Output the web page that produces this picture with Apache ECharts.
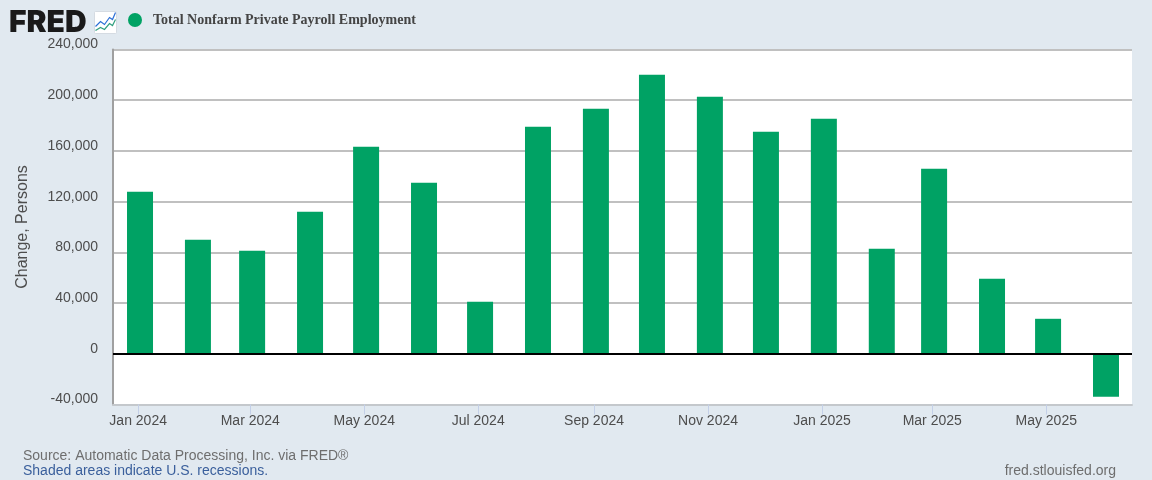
<!DOCTYPE html>
<html><head><meta charset="utf-8">
<style>html,body{margin:0;padding:0;background:#e1e9f0}#c{width:1152px;height:480px}</style>
<script src="https://cdn.jsdelivr.net/npm/echarts@6/dist/echarts.min.js"></script>
</head><body><div id="c"></div>
<script>
const months = ['2024-01-02','2024-02-02','2024-03-02','2024-04-02','2024-05-02','2024-06-02','2024-07-02','2024-08-02','2024-09-02','2024-10-02','2024-11-02','2024-12-02','2025-01-02','2025-02-02','2025-03-02','2025-04-02','2025-05-02','2025-06-02'];
const changes = [127800,89900,81300,112000,163300,134900,41000,179100,193300,220100,202800,175200,185400,82800,146000,59200,27600,-33900];
const tickDates = ['2024-01-01','2024-03-01','2024-05-01','2024-07-01','2024-09-01','2024-11-01','2025-01-01','2025-03-01','2025-05-01'];
const seriesName = 'Total Nonfarm Private Payroll Employment';
const monthNames = ['Jan','Feb','Mar','Apr','May','Jun','Jul','Aug','Sep','Oct','Nov','Dec'];
const green = '#00a264', sans = '"Liberation Sans",Arial,sans-serif';
const chart = echarts.init(document.getElementById('c'));
chart.setOption({
  animation:false, backgroundColor:'#e1e9f0',
  grid:{left:113,right:20,top:49.5,bottom:75.5,show:true,backgroundColor:'#fff',borderWidth:0,outerBoundsMode:'none'},
  legend:{left:123,top:8,icon:'circle',itemWidth:14,itemHeight:14,itemGap:8,
    textStyle:{fontFamily:'"Liberation Serif",serif',fontWeight:'bold',fontSize:14,color:'#444',padding:[0,0,0,6]},data:[seriesName]},
  xAxis:{type:'value',min:Date.parse('2023-12-18T13:00:00Z'),max:Date.parse('2025-06-15T22:00:00Z'),
    axisLine:{onZero:false,lineStyle:{color:'#c4c8cc',width:2}},
    axisTick:{show:true,length:10,lineStyle:{color:'#c4d0e8',width:1},customValues:tickDates.map(d=>Date.parse(d))},
    axisLabel:{fontFamily:sans,fontSize:14,color:'#4d4d4d',margin:10,hideOverlap:false,showMinLabel:true,showMaxLabel:true,
      customValues:tickDates.map(d=>Date.parse(d)),
      formatter:v=>{const d=new Date(v);return monthNames[d.getUTCMonth()]+' '+d.getUTCFullYear();}},
    splitLine:{show:false}},
  yAxis:{type:'value',min:-40000,max:240000,interval:40000,name:'Change, Persons',nameLocation:'middle',nameGap:82,
    nameTextStyle:{fontFamily:sans,fontSize:16,color:'#4d4d4d'},
    axisLine:{show:true,lineStyle:{color:'#a0a0a0',width:2}},axisTick:{show:false},
    axisLabel:{fontFamily:sans,fontSize:14,color:'#4d4d4d',margin:15,verticalAlign:'bottom',padding:[0,0,-2,0],
      formatter:v=>v.toLocaleString('en-US')},
    splitLine:{show:true,lineStyle:{color:'#c0c0c0',width:2}}},
  series:[{type:'bar',name:seriesName,barWidth:26,itemStyle:{color:green},
    data:months.map((m,i)=>[Date.parse(m),changes[i]]),
    markLine:{silent:true,symbol:'none',label:{show:false},lineStyle:{color:'#000',width:2,type:'solid'},data:[{yAxis:0}]}}],
  graphic:[
    {type:'text',left:9,top:8,style:{text:'FRED',fontFamily:'Inter,sans-serif',fontWeight:900,fontSize:30,fill:'#1a1a1a'}},
    {type:'group',left:93,top:10,children:[
      {type:'rect',shape:{x:0,y:0,width:22,height:22,r:1},style:{fill:'#fff',stroke:'#d5dbe2',lineWidth:1}},
      {type:'polyline',shape:{points:[[1,15],[6,10],[10,13],[15,6],[18,8],[21,1]]},style:{fill:'none',stroke:'#2c6fd6',lineWidth:1.2}},
      {type:'polyline',shape:{points:[[1,19],[6,16],[10,18],[15,12],[18,14],[21,8]]},style:{fill:'none',stroke:'#2f9f7f',lineWidth:1.2}}]},
    {type:'text',left:23,top:449,style:{text:'Source: Automatic Data Processing, Inc. via FRED®',fontFamily:sans,fontSize:14,fill:'#6e6e6e'}},
    {type:'text',left:23,top:464,style:{text:'Shaded areas indicate U.S. recessions.',fontFamily:sans,fontSize:14,fill:'#3a5f9c'}},
    {type:'text',right:36,top:464,style:{text:'fred.stlouisfed.org',fontFamily:sans,fontSize:14,fill:'#6e6e6e'}}
  ]
});
</script></body></html>
